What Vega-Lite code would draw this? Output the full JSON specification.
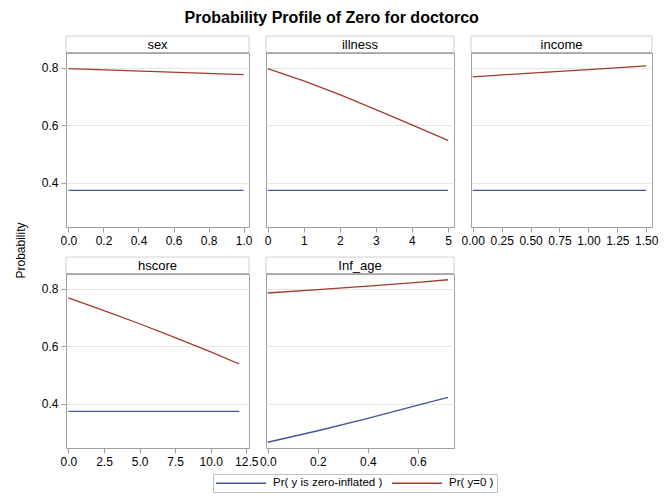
{
  "$schema": "https://vega.github.io/schema/vega-lite/v6.json",
  "background": "white",
  "padding": {"left": 5, "top": 10, "right": 5, "bottom": 5},
  "title": {"text": "Probability Profile of Zero for doctorco", "fontSize": 16, "font": "Liberation Sans", "fontWeight": "bold", "anchor": "middle", "offset": 9, "color": "#000000"},
  "datasets": {
    "panels": [{"panel": "sex"}, {"panel": "illness"}, {"panel": "income"}, {"panel": "hscore"}, {"panel": "Inf_age"}],
    "d": [
      {"panel": "sex", "series": "Pr( y is zero-inflated )", "x": 0, "p": 0.373},
      {"panel": "sex", "series": "Pr( y is zero-inflated )", "x": 1, "p": 0.373},
      {"panel": "sex", "series": "Pr( y=0 )", "x": 0, "p": 0.797},
      {"panel": "sex", "series": "Pr( y=0 )", "x": 1, "p": 0.776},
      {"panel": "illness", "series": "Pr( y is zero-inflated )", "x": 0, "p": 0.373},
      {"panel": "illness", "series": "Pr( y is zero-inflated )", "x": 5, "p": 0.373},
      {"panel": "illness", "series": "Pr( y=0 )", "x": 0, "p": 0.797},
      {"panel": "illness", "series": "Pr( y=0 )", "x": 1, "p": 0.754},
      {"panel": "illness", "series": "Pr( y=0 )", "x": 2, "p": 0.706},
      {"panel": "illness", "series": "Pr( y=0 )", "x": 3, "p": 0.654},
      {"panel": "illness", "series": "Pr( y=0 )", "x": 4, "p": 0.601},
      {"panel": "illness", "series": "Pr( y=0 )", "x": 5, "p": 0.547},
      {"panel": "income", "series": "Pr( y is zero-inflated )", "x": 0, "p": 0.373},
      {"panel": "income", "series": "Pr( y is zero-inflated )", "x": 1.5, "p": 0.373},
      {"panel": "income", "series": "Pr( y=0 )", "x": 0, "p": 0.768},
      {"panel": "income", "series": "Pr( y=0 )", "x": 0.5, "p": 0.781},
      {"panel": "income", "series": "Pr( y=0 )", "x": 1.0, "p": 0.793},
      {"panel": "income", "series": "Pr( y=0 )", "x": 1.5, "p": 0.806},
      {"panel": "hscore", "series": "Pr( y is zero-inflated )", "x": 0, "p": 0.373},
      {"panel": "hscore", "series": "Pr( y is zero-inflated )", "x": 12, "p": 0.373},
      {"panel": "hscore", "series": "Pr( y=0 )", "x": 0, "p": 0.768},
      {"panel": "hscore", "series": "Pr( y=0 )", "x": 2.5, "p": 0.724},
      {"panel": "hscore", "series": "Pr( y=0 )", "x": 5, "p": 0.678},
      {"panel": "hscore", "series": "Pr( y=0 )", "x": 7.5, "p": 0.630},
      {"panel": "hscore", "series": "Pr( y=0 )", "x": 10, "p": 0.580},
      {"panel": "hscore", "series": "Pr( y=0 )", "x": 12, "p": 0.538},
      {"panel": "Inf_age", "series": "Pr( y is zero-inflated )", "x": 0, "p": 0.266},
      {"panel": "Inf_age", "series": "Pr( y is zero-inflated )", "x": 0.2, "p": 0.306},
      {"panel": "Inf_age", "series": "Pr( y is zero-inflated )", "x": 0.4, "p": 0.349},
      {"panel": "Inf_age", "series": "Pr( y is zero-inflated )", "x": 0.6, "p": 0.395},
      {"panel": "Inf_age", "series": "Pr( y is zero-inflated )", "x": 0.72, "p": 0.422},
      {"panel": "Inf_age", "series": "Pr( y=0 )", "x": 0, "p": 0.785},
      {"panel": "Inf_age", "series": "Pr( y=0 )", "x": 0.2, "p": 0.797},
      {"panel": "Inf_age", "series": "Pr( y=0 )", "x": 0.4, "p": 0.809},
      {"panel": "Inf_age", "series": "Pr( y=0 )", "x": 0.6, "p": 0.822},
      {"panel": "Inf_age", "series": "Pr( y=0 )", "x": 0.72, "p": 0.831}
    ]
  },
  "spacing": 3,
  "hconcat": [
    {
      "data": {"values": [{"t": "Probability"}]},
      "width": 32, "height": 395,
      "view": {"stroke": null},
      "mark": {"type": "text", "angle": 270, "font": "Liberation Sans", "fontSize": 12, "color": "#000000"},
      "encoding": {"text": {"field": "t"}}
    },
    {
      "columns": 3,
      "bounds": "flush",
      "spacing": {"row": 47, "column": 17},
      "concat": [
        {
          "width": 183, "height": 174,
          "layer": [
            {"data": {"name": "d"}, "transform": [{"filter": "datum.panel === 'sex'"}],
             "mark": {"type": "line", "strokeWidth": 1.3},
             "encoding": {
               "x": {"field": "x", "type": "quantitative", "scale": {"domain": [-0.014, 1.031], "nice": false, "zero": false}, "axis": {"values": [0, 0.2, 0.4, 0.6, 0.8, 1.0], "format": ".1f", "title": null, "grid": false}},
               "y": {"field": "p", "type": "quantitative", "scale": {"domain": [0.246, 0.851], "nice": false, "zero": false}, "axis": {"values": [0.4, 0.6, 0.8], "format": ".1f", "title": null}},
               "color": {"field": "series", "type": "nominal"}
             }},
            {"data": {"name": "panels"}, "transform": [{"filter": "datum.panel === 'sex'"}],
             "mark": {"type": "rect", "fill": "white", "stroke": "#d0d0d0", "strokeWidth": 1},
             "encoding": {
               "x": {"datum": -0.014, "type": "quantitative", "scale": {"domain": [-0.014, 1.031], "nice": false, "zero": false}, "axis": {"values": [0, 0.2, 0.4, 0.6, 0.8, 1.0], "format": ".1f", "title": null, "grid": false}},
               "x2": {"datum": 1.031},
               "y": {"datum": 0.851, "type": "quantitative", "scale": {"domain": [0.246, 0.851], "nice": false, "zero": false}, "axis": {"values": [0.4, 0.6, 0.8], "format": ".1f", "title": null}},
               "y2": {"datum": 0.91}}},
            {"data": {"name": "panels"}, "transform": [{"filter": "datum.panel === 'sex'"}],
             "mark": {"type": "rule", "color": "#a0a0a0", "strokeWidth": 1.5},
             "encoding": {
               "x": {"datum": -0.014, "type": "quantitative", "scale": {"domain": [-0.014, 1.031], "nice": false, "zero": false}, "axis": {"values": [0, 0.2, 0.4, 0.6, 0.8, 1.0], "format": ".1f", "title": null, "grid": false}},
               "x2": {"datum": 1.031},
               "y": {"datum": 0.851, "type": "quantitative", "scale": {"domain": [0.246, 0.851], "nice": false, "zero": false}, "axis": {"values": [0.4, 0.6, 0.8], "format": ".1f", "title": null}}}},
            {"data": {"name": "panels"}, "transform": [{"filter": "datum.panel === 'sex'"}],
             "mark": {"type": "text", "font": "Liberation Sans", "fontSize": 13, "color": "#000000", "baseline": "middle"},
             "encoding": {
               "x": {"datum": 0.5085, "type": "quantitative", "scale": {"domain": [-0.014, 1.031], "nice": false, "zero": false}, "axis": {"values": [0, 0.2, 0.4, 0.6, 0.8, 1.0], "format": ".1f", "title": null, "grid": false}},
               "y": {"datum": 0.8805, "type": "quantitative", "scale": {"domain": [0.246, 0.851], "nice": false, "zero": false}, "axis": {"values": [0.4, 0.6, 0.8], "format": ".1f", "title": null}},
               "text": {"field": "panel"}}}
          ]
        },
        {
          "width": 188, "height": 174,
          "layer": [
            {"data": {"name": "d"}, "transform": [{"filter": "datum.panel === 'illness'"}],
             "mark": {"type": "line", "strokeWidth": 1.3},
             "encoding": {
               "x": {"field": "x", "type": "quantitative", "scale": {"domain": [-0.047, 5.166], "nice": false, "zero": false}, "axis": {"values": [0, 1, 2, 3, 4, 5], "format": "d", "title": null, "grid": false}},
               "y": {"field": "p", "type": "quantitative", "scale": {"domain": [0.246, 0.851], "nice": false, "zero": false}, "axis": {"values": [0.4, 0.6, 0.8], "labels": false, "ticks": false, "title": null}},
               "color": {"field": "series", "type": "nominal"}
             }},
            {"data": {"name": "panels"}, "transform": [{"filter": "datum.panel === 'illness'"}],
             "mark": {"type": "rect", "fill": "white", "stroke": "#d0d0d0", "strokeWidth": 1},
             "encoding": {
               "x": {"datum": -0.047, "type": "quantitative", "scale": {"domain": [-0.047, 5.166], "nice": false, "zero": false}, "axis": {"values": [0, 1, 2, 3, 4, 5], "format": "d", "title": null, "grid": false}},
               "x2": {"datum": 5.166},
               "y": {"datum": 0.851, "type": "quantitative", "scale": {"domain": [0.246, 0.851], "nice": false, "zero": false}, "axis": {"values": [0.4, 0.6, 0.8], "labels": false, "ticks": false, "title": null}},
               "y2": {"datum": 0.91}}},
            {"data": {"name": "panels"}, "transform": [{"filter": "datum.panel === 'illness'"}],
             "mark": {"type": "rule", "color": "#a0a0a0", "strokeWidth": 1.5},
             "encoding": {
               "x": {"datum": -0.047, "type": "quantitative", "scale": {"domain": [-0.047, 5.166], "nice": false, "zero": false}, "axis": {"values": [0, 1, 2, 3, 4, 5], "format": "d", "title": null, "grid": false}},
               "x2": {"datum": 5.166},
               "y": {"datum": 0.851, "type": "quantitative", "scale": {"domain": [0.246, 0.851], "nice": false, "zero": false}, "axis": {"values": [0.4, 0.6, 0.8], "labels": false, "ticks": false, "title": null}}}},
            {"data": {"name": "panels"}, "transform": [{"filter": "datum.panel === 'illness'"}],
             "mark": {"type": "text", "font": "Liberation Sans", "fontSize": 13, "color": "#000000", "baseline": "middle"},
             "encoding": {
               "x": {"datum": 2.5595, "type": "quantitative", "scale": {"domain": [-0.047, 5.166], "nice": false, "zero": false}, "axis": {"values": [0, 1, 2, 3, 4, 5], "format": "d", "title": null, "grid": false}},
               "y": {"datum": 0.8805, "type": "quantitative", "scale": {"domain": [0.246, 0.851], "nice": false, "zero": false}, "axis": {"values": [0.4, 0.6, 0.8], "labels": false, "ticks": false, "title": null}},
               "text": {"field": "panel"}}}
          ]
        },
        {
          "width": 181, "height": 174,
          "layer": [
            {"data": {"name": "d"}, "transform": [{"filter": "datum.panel === 'income'"}],
             "mark": {"type": "line", "strokeWidth": 1.3},
             "encoding": {
               "x": {"field": "x", "type": "quantitative", "scale": {"domain": [-0.015, 1.55], "nice": false, "zero": false}, "axis": {"values": [0, 0.25, 0.5, 0.75, 1.0, 1.25, 1.5], "format": ".2f", "title": null, "grid": false}},
               "y": {"field": "p", "type": "quantitative", "scale": {"domain": [0.246, 0.851], "nice": false, "zero": false}, "axis": {"values": [0.4, 0.6, 0.8], "labels": false, "ticks": false, "title": null}},
               "color": {"field": "series", "type": "nominal"}
             }},
            {"data": {"name": "panels"}, "transform": [{"filter": "datum.panel === 'income'"}],
             "mark": {"type": "rect", "fill": "white", "stroke": "#d0d0d0", "strokeWidth": 1},
             "encoding": {
               "x": {"datum": -0.015, "type": "quantitative", "scale": {"domain": [-0.015, 1.55], "nice": false, "zero": false}, "axis": {"values": [0, 0.25, 0.5, 0.75, 1.0, 1.25, 1.5], "format": ".2f", "title": null, "grid": false}},
               "x2": {"datum": 1.55},
               "y": {"datum": 0.851, "type": "quantitative", "scale": {"domain": [0.246, 0.851], "nice": false, "zero": false}, "axis": {"values": [0.4, 0.6, 0.8], "labels": false, "ticks": false, "title": null}},
               "y2": {"datum": 0.91}}},
            {"data": {"name": "panels"}, "transform": [{"filter": "datum.panel === 'income'"}],
             "mark": {"type": "rule", "color": "#a0a0a0", "strokeWidth": 1.5},
             "encoding": {
               "x": {"datum": -0.015, "type": "quantitative", "scale": {"domain": [-0.015, 1.55], "nice": false, "zero": false}, "axis": {"values": [0, 0.25, 0.5, 0.75, 1.0, 1.25, 1.5], "format": ".2f", "title": null, "grid": false}},
               "x2": {"datum": 1.55},
               "y": {"datum": 0.851, "type": "quantitative", "scale": {"domain": [0.246, 0.851], "nice": false, "zero": false}, "axis": {"values": [0.4, 0.6, 0.8], "labels": false, "ticks": false, "title": null}}}},
            {"data": {"name": "panels"}, "transform": [{"filter": "datum.panel === 'income'"}],
             "mark": {"type": "text", "font": "Liberation Sans", "fontSize": 13, "color": "#000000", "baseline": "middle"},
             "encoding": {
               "x": {"datum": 0.7675, "type": "quantitative", "scale": {"domain": [-0.015, 1.55], "nice": false, "zero": false}, "axis": {"values": [0, 0.25, 0.5, 0.75, 1.0, 1.25, 1.5], "format": ".2f", "title": null, "grid": false}},
               "y": {"datum": 0.8805, "type": "quantitative", "scale": {"domain": [0.246, 0.851], "nice": false, "zero": false}, "axis": {"values": [0.4, 0.6, 0.8], "labels": false, "ticks": false, "title": null}},
               "text": {"field": "panel"}}}
          ]
        },
        {
          "width": 183, "height": 174,
          "layer": [
            {"data": {"name": "d"}, "transform": [{"filter": "datum.panel === 'hscore'"}],
             "mark": {"type": "line", "strokeWidth": 1.3},
             "encoding": {
               "x": {"field": "x", "type": "quantitative", "scale": {"domain": [-0.17, 12.69], "nice": false, "zero": false}, "axis": {"values": [0, 2.5, 5, 7.5, 10, 12.5], "format": ".1f", "title": null, "grid": false}},
               "y": {"field": "p", "type": "quantitative", "scale": {"domain": [0.246, 0.851], "nice": false, "zero": false}, "axis": {"values": [0.4, 0.6, 0.8], "format": ".1f", "title": null}},
               "color": {"field": "series", "type": "nominal"}
             }},
            {"data": {"name": "panels"}, "transform": [{"filter": "datum.panel === 'hscore'"}],
             "mark": {"type": "rect", "fill": "white", "stroke": "#d0d0d0", "strokeWidth": 1},
             "encoding": {
               "x": {"datum": -0.17, "type": "quantitative", "scale": {"domain": [-0.17, 12.69], "nice": false, "zero": false}, "axis": {"values": [0, 2.5, 5, 7.5, 10, 12.5], "format": ".1f", "title": null, "grid": false}},
               "x2": {"datum": 12.69},
               "y": {"datum": 0.851, "type": "quantitative", "scale": {"domain": [0.246, 0.851], "nice": false, "zero": false}, "axis": {"values": [0.4, 0.6, 0.8], "format": ".1f", "title": null}},
               "y2": {"datum": 0.91}}},
            {"data": {"name": "panels"}, "transform": [{"filter": "datum.panel === 'hscore'"}],
             "mark": {"type": "rule", "color": "#a0a0a0", "strokeWidth": 1.5},
             "encoding": {
               "x": {"datum": -0.17, "type": "quantitative", "scale": {"domain": [-0.17, 12.69], "nice": false, "zero": false}, "axis": {"values": [0, 2.5, 5, 7.5, 10, 12.5], "format": ".1f", "title": null, "grid": false}},
               "x2": {"datum": 12.69},
               "y": {"datum": 0.851, "type": "quantitative", "scale": {"domain": [0.246, 0.851], "nice": false, "zero": false}, "axis": {"values": [0.4, 0.6, 0.8], "format": ".1f", "title": null}}}},
            {"data": {"name": "panels"}, "transform": [{"filter": "datum.panel === 'hscore'"}],
             "mark": {"type": "text", "font": "Liberation Sans", "fontSize": 13, "color": "#000000", "baseline": "middle"},
             "encoding": {
               "x": {"datum": 6.26, "type": "quantitative", "scale": {"domain": [-0.17, 12.69], "nice": false, "zero": false}, "axis": {"values": [0, 2.5, 5, 7.5, 10, 12.5], "format": ".1f", "title": null, "grid": false}},
               "y": {"datum": 0.8805, "type": "quantitative", "scale": {"domain": [0.246, 0.851], "nice": false, "zero": false}, "axis": {"values": [0.4, 0.6, 0.8], "format": ".1f", "title": null}},
               "text": {"field": "panel"}}}
          ]
        },
        {
          "width": 188, "height": 174,
          "layer": [
            {"data": {"name": "d"}, "transform": [{"filter": "datum.panel === 'Inf_age'"}],
             "mark": {"type": "line", "strokeWidth": 1.3},
             "encoding": {
               "x": {"field": "x", "type": "quantitative", "scale": {"domain": [-0.007, 0.744], "nice": false, "zero": false}, "axis": {"values": [0, 0.2, 0.4, 0.6], "format": ".1f", "title": null, "grid": false}},
               "y": {"field": "p", "type": "quantitative", "scale": {"domain": [0.246, 0.851], "nice": false, "zero": false}, "axis": {"values": [0.4, 0.6, 0.8], "labels": false, "ticks": false, "title": null}},
               "color": {"field": "series", "type": "nominal", "scale": {"domain": ["Pr( y is zero-inflated )", "Pr( y=0 )"], "range": ["#445694", "#A23A2E"]},
                 "legend": {"title": null, "orient": "none", "legendX": 208, "legendY": 421, "direction": "horizontal", "symbolType": "M-5,0H5", "symbolSize": 100, "symbolStrokeWidth": 1.3, "symbolOffset": 19, "labelOffset": 26, "columnPadding": 6, "labelFontSize": 11.5, "labelFont": "Liberation Sans", "labelColor": "#000000", "strokeColor": "#c0c0c0", "padding": 3}}
             }},
            {"data": {"name": "panels"}, "transform": [{"filter": "datum.panel === 'Inf_age'"}],
             "mark": {"type": "rect", "fill": "white", "stroke": "#d0d0d0", "strokeWidth": 1},
             "encoding": {
               "x": {"datum": -0.007, "type": "quantitative", "scale": {"domain": [-0.007, 0.744], "nice": false, "zero": false}, "axis": {"values": [0, 0.2, 0.4, 0.6], "format": ".1f", "title": null, "grid": false}},
               "x2": {"datum": 0.744},
               "y": {"datum": 0.851, "type": "quantitative", "scale": {"domain": [0.246, 0.851], "nice": false, "zero": false}, "axis": {"values": [0.4, 0.6, 0.8], "labels": false, "ticks": false, "title": null}},
               "y2": {"datum": 0.91}}},
            {"data": {"name": "panels"}, "transform": [{"filter": "datum.panel === 'Inf_age'"}],
             "mark": {"type": "rule", "color": "#a0a0a0", "strokeWidth": 1.5},
             "encoding": {
               "x": {"datum": -0.007, "type": "quantitative", "scale": {"domain": [-0.007, 0.744], "nice": false, "zero": false}, "axis": {"values": [0, 0.2, 0.4, 0.6], "format": ".1f", "title": null, "grid": false}},
               "x2": {"datum": 0.744},
               "y": {"datum": 0.851, "type": "quantitative", "scale": {"domain": [0.246, 0.851], "nice": false, "zero": false}, "axis": {"values": [0.4, 0.6, 0.8], "labels": false, "ticks": false, "title": null}}}},
            {"data": {"name": "panels"}, "transform": [{"filter": "datum.panel === 'Inf_age'"}],
             "mark": {"type": "text", "font": "Liberation Sans", "fontSize": 13, "color": "#000000", "baseline": "middle"},
             "encoding": {
               "x": {"datum": 0.3685, "type": "quantitative", "scale": {"domain": [-0.007, 0.744], "nice": false, "zero": false}, "axis": {"values": [0, 0.2, 0.4, 0.6], "format": ".1f", "title": null, "grid": false}},
               "y": {"datum": 0.8805, "type": "quantitative", "scale": {"domain": [0.246, 0.851], "nice": false, "zero": false}, "axis": {"values": [0.4, 0.6, 0.8], "labels": false, "ticks": false, "title": null}},
               "text": {"field": "panel"}}}
          ]
        }
      ]
    }
  ],
  "config": {
    "font": "Liberation Sans",
    "view": {"stroke": "#a0a0a0", "strokeWidth": 1},
    "axis": {"labelFont": "Liberation Sans", "labelFontSize": 12, "labelColor": "#000000", "tickColor": "#a0a0a0", "tickSize": 5, "labelPadding": 3, "domain": false, "gridColor": "#e6e6e6", "labelFlush": false, "minExtent": 0},
    "axisY": {"minExtent": 0},
    "axisX": {"minExtent": 0},
    "legend": {"symbolType": "stroke"}
  }
}
